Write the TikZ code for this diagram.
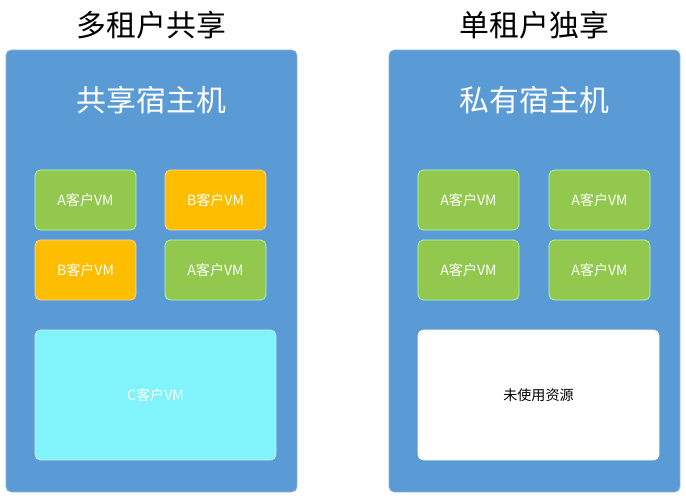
\documentclass[tikz,border=0pt]{standalone}
\usepackage{fontspec}
\setmainfont{Noto Sans CJK SC}
\usetikzlibrary{positioning}
\definecolor{hostblue}{HTML}{5B9BD5}
\definecolor{vmgreen}{HTML}{92C84E}
\definecolor{vmorange}{HTML}{FFBD00}
\definecolor{vmcyan}{HTML}{80F4FA}
\begin{document}
\begin{tikzpicture}[x=0.02cm, y=-0.02cm]
        % Define styles
        \tikzset{
            host/.style={draw=hostblue!80!white, fill=hostblue, rounded corners=3pt, minimum width=5.82cm, minimum height=8.84cm},
            vm/.style={draw=white!70!green, rounded corners=3pt, minimum width=2.02cm, minimum height=1.2cm, text=white, font=\fontsize{8}{9}\selectfont},
            pool/.style={draw=white!80!cyan, rounded corners=3pt, minimum width=4.82cm, minimum height=2.6cm, font=\fontsize{8}{9}\selectfont},
            heading/.style={font=\fontsize{17}{20}\selectfont},
            hosttitle/.style={text=white, font=\fontsize{17}{20}\selectfont}
        }
        \useasboundingbox (0,0) rectangle (686,500);

        % Shared host
        \node [host] (shared) at (151.5,271) {};
        \node [heading] (sharedhead) at (151.5,25) {多租户共享};
        \node [hosttitle] (sharedtitle) at (151.5,100) {共享宿主机};
        \node [vm, fill=vmgreen] (sa1) at (85.5,200) {A客户VM};
        \node [vm, fill=vmorange, draw=white!70!orange] (sb1) at (215.5,200) {B客户VM};
        \node [vm, fill=vmorange, draw=white!70!orange] (sb2) at (85.5,270) {B客户VM};
        \node [vm, fill=vmgreen] (sa2) at (215.5,270) {A客户VM};
        \node [pool, fill=vmcyan, text=white] (sc) at (155.5,395) {C客户VM};

        % Dedicated host
        \node [host] (private) at (534.5,271) {};
        \node [heading] (privatehead) at (534.5,25) {单租户独享};
        \node [hosttitle] (privatetitle) at (534.5,100) {私有宿主机};
        \node [vm, fill=vmgreen] (pa1) at (468.5,200) {A客户VM};
        \node [vm, fill=vmgreen] (pa2) at (599.5,200) {A客户VM};
        \node [vm, fill=vmgreen] (pa3) at (468.5,270) {A客户VM};
        \node [vm, fill=vmgreen] (pa4) at (599.5,270) {A客户VM};
        \node [pool, fill=white, draw=white] (unused) at (538.5,395) {未使用资源};
\end{tikzpicture}
\end{document}
